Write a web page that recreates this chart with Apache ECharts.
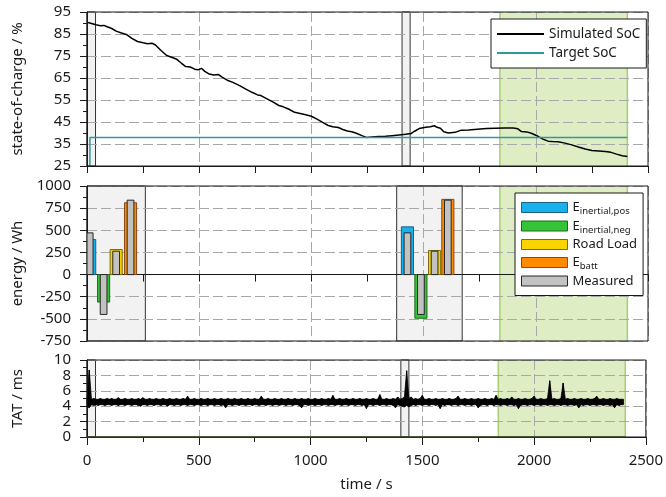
<!DOCTYPE html>
<html>
<head>
<meta charset="utf-8">
<script src="https://cdn.jsdelivr.net/npm/echarts@6.0.0/dist/echarts.min.js"></script>
<style>
html, body { margin: 0; padding: 0; background: #fff; }
#chart { width: 666px; height: 497px; }
</style>
</head>
<body>
<div id="chart"></div>
<script>
// ---- state of charge (top panel) ----
const socTime = [5, 20, 40, 60, 75, 90, 110, 130, 150, 175, 200, 225, 250, 270, 290, 305, 330, 355, 380, 400,
  420, 440, 460, 480, 495, 510, 525, 545, 565, 585, 600, 625, 650, 680, 710, 735, 760, 775, 800, 830,
  855, 875, 900, 925, 950, 975, 1000, 1025, 1050, 1075, 1095, 1120, 1140, 1160, 1180, 1200, 1225, 1245, 1270, 1300,
  1330, 1360, 1390, 1420, 1445, 1460, 1480, 1510, 1530, 1548, 1560, 1575, 1590, 1610, 1640, 1665, 1700, 1740, 1780, 1820,
  1860, 1900, 1920, 1935, 1960, 1980, 2010, 2030, 2055, 2075, 2100, 2130, 2160, 2190, 2220, 2250, 2280, 2310, 2335, 2360,
  2385, 2408];
const socSimulated = [90.2, 89.8, 89.2, 88.8, 88.9, 88.3, 87.5, 86.3, 85.6, 84.8, 83.0, 81.6, 81.0, 80.6, 80.8, 80.0, 77.5, 75.2, 74.3, 73.5,
  71.8, 70.2, 70.0, 69.0, 68.7, 69.4, 68.0, 66.8, 66.4, 66.6, 65.5, 64.0, 63.0, 61.5, 59.8, 58.5, 57.3, 57.0, 55.6, 54.0,
  52.5, 51.9, 50.8, 49.4, 48.9, 48.3, 47.6, 46.3, 44.8, 43.4, 42.8, 42.5, 41.6, 40.9, 40.6, 39.9, 38.8, 38.0, 38.2, 38.4,
  38.5, 38.8, 39.1, 39.4, 39.8, 40.8, 42.0, 42.6, 42.8, 43.3, 42.6, 42.2, 40.6, 40.0, 40.3, 41.2, 41.4, 41.7, 42.0, 42.2,
  42.3, 42.3, 41.9, 40.7, 40.5, 39.9, 38.5, 37.3, 36.3, 36.1, 36.0, 35.4, 34.6, 33.6, 32.7, 32.0, 31.8, 31.6, 31.2, 30.4,
  29.7, 29.3];
const targetTime = [13, 13, 2408];
const targetSoc = [25, 38, 38];

// ---- energy balance (middle panel) ----
const energyNames = ['E_inertial,pos', 'E_inertial,neg', 'Road Load', 'E_batt'];
const energyTimes = [[12, 1428], [74, 1488], [130, 1549], [194, 1608]];
const energySimulated = [[396, 539], [-310, -493], [283, 272], [811, 849]];
const energyMeasured = [[471, 471], [-450, -450], [264, 264], [840, 840]];

// ---- turnaround time (bottom panel): min / max per 10 s window ----
const tatStep = 10;
const tatHigh = [
  4.9, 8.7, 4.9, 5.0, 4.9, 4.9, 5.0, 4.9, 4.9, 5.0,
  4.9, 5.0, 4.9, 4.9, 5.1, 4.9, 4.9, 5.0, 4.9, 4.9,
  5.0, 4.9, 4.9, 5.0, 4.9, 5.1, 4.9, 4.9, 5.0, 4.9,
  4.9, 5.0, 4.9, 4.9, 5.0, 4.9, 4.9, 5.0, 4.9, 4.9,
  5.0, 4.9, 4.9, 5.0, 4.9, 5.3, 4.9, 4.9, 5.0, 4.9,
  4.9, 5.0, 4.9, 4.9, 5.0, 4.9, 4.9, 5.0, 4.9, 4.9,
  5.0, 4.9, 4.9, 5.0, 4.9, 4.9, 5.0, 4.9, 4.9, 5.0,
  4.9, 4.9, 5.0, 4.9, 4.9, 5.0, 4.9, 4.9, 5.3, 4.9,
  4.9, 5.0, 4.9, 4.9, 5.0, 4.9, 4.9, 5.0, 4.9, 4.9,
  5.0, 4.9, 4.9, 5.0, 4.9, 4.9, 5.0, 4.9, 4.9, 5.0,
  4.9, 4.9, 5.0, 4.9, 4.9, 5.0, 4.9, 4.9, 5.0, 4.9,
  5.4, 4.9, 4.9, 5.0, 4.9, 4.9, 5.0, 4.9, 4.9, 5.0,
  4.9, 4.9, 5.0, 4.9, 4.9, 5.0, 4.9, 4.9, 5.0, 4.9,
  4.9, 5.5, 4.9, 4.9, 5.0, 4.9, 4.9, 5.0, 4.9, 5.2,
  4.9, 5.0, 5.2, 8.6, 5.0, 5.2, 4.9, 5.0, 4.9, 5.0,
  5.4, 4.9, 4.9, 5.0, 4.9, 4.9, 5.0, 4.9, 4.9, 5.0,
  4.9, 4.9, 5.0, 4.9, 4.9, 5.0, 5.3, 4.9, 4.9, 5.0,
  4.9, 4.9, 5.0, 4.9, 4.9, 5.0, 4.9, 4.9, 5.0, 4.9,
  4.9, 5.0, 4.9, 5.4, 4.9, 5.0, 4.9, 4.9, 5.0, 4.9,
  5.2, 4.9, 4.9, 5.0, 4.9, 4.9, 5.0, 4.9, 4.9, 5.0,
  5.3, 4.9, 4.9, 5.0, 4.9, 4.9, 5.0, 7.3, 4.9, 5.0,
  4.9, 4.9, 5.0, 7.0, 4.9, 5.0, 4.9, 4.9, 5.0, 4.9,
  4.9, 5.0, 4.9, 4.9, 5.0, 4.9, 4.9, 5.0, 5.3, 4.9,
  4.9, 5.0, 4.9, 4.9, 5.0, 4.9, 4.9, 5.0, 4.9, 4.9,
  4.9];
const tatLow = [
  4.0, 3.8, 4.2, 4.1, 4.2, 4.1, 4.2, 4.2, 4.1, 4.2,
  4.2, 4.1, 4.2, 4.2, 4.1, 4.2, 4.2, 4.1, 4.2, 4.2,
  4.1, 4.2, 4.2, 4.1, 4.0, 4.2, 4.2, 4.1, 4.2, 4.2,
  4.1, 4.2, 4.2, 4.1, 4.2, 4.2, 4.0, 4.2, 4.2, 4.1,
  4.2, 4.2, 4.1, 4.2, 4.2, 4.1, 4.2, 4.2, 4.1, 4.2,
  4.2, 4.1, 4.2, 4.2, 4.1, 4.2, 4.2, 4.1, 4.2, 4.2,
  4.1, 4.2, 3.8, 4.2, 4.2, 4.1, 4.2, 4.2, 4.1, 4.2,
  4.2, 4.1, 4.2, 4.2, 4.1, 4.2, 4.2, 4.1, 4.2, 4.2,
  4.1, 4.2, 4.2, 4.1, 4.2, 4.2, 4.1, 4.2, 4.2, 4.1,
  4.2, 4.2, 4.1, 4.2, 4.2, 4.1, 3.8, 4.2, 4.2, 4.1,
  4.2, 4.2, 4.1, 4.2, 4.2, 4.1, 4.2, 4.2, 4.1, 4.2,
  4.2, 4.1, 4.2, 4.2, 4.1, 4.2, 4.2, 4.1, 4.2, 4.2,
  4.1, 4.2, 4.2, 4.1, 4.2, 3.7, 4.2, 4.2, 4.1, 4.2,
  4.2, 4.1, 4.2, 4.2, 4.1, 4.2, 4.2, 4.1, 3.8, 4.2,
  4.1, 4.0, 3.9, 4.1, 3.9, 4.1, 4.2, 4.1, 4.2, 4.2,
  4.1, 4.2, 4.2, 4.1, 4.2, 4.2, 4.1, 4.2, 3.7, 4.2,
  4.1, 4.2, 4.2, 4.1, 4.2, 4.2, 4.1, 4.2, 4.2, 4.1,
  4.2, 4.2, 4.1, 4.2, 4.2, 3.8, 4.1, 4.2, 4.2, 4.1,
  4.2, 4.2, 4.1, 4.2, 4.2, 4.1, 4.2, 4.2, 4.1, 4.2,
  4.2, 4.1, 4.2, 3.7, 4.1, 4.2, 4.2, 4.1, 4.2, 4.2,
  4.1, 4.2, 4.2, 4.1, 4.2, 4.2, 4.1, 4.2, 4.2, 4.1,
  4.2, 4.2, 4.1, 4.2, 4.2, 4.1, 4.2, 4.2, 4.1, 4.2,
  3.8, 4.2, 4.1, 4.2, 4.2, 4.1, 4.2, 4.2, 4.1, 4.2,
  4.2, 4.1, 4.2, 4.2, 4.1, 4.2, 3.8, 4.2, 4.1, 4.2,
  4.2];
const flagTime = [0, 2408];
const flagValue = [0, 0];

// ---- highlighted time windows ----
const socWindows = [[0, 38], [1404, 1440]];
const energyWindows = [[0, 260], [1380, 1672]];
const tatWindows = [[0, 38], [1404, 1440]];
const evaluationWindow = [[1840, 2408]];

// ---- axis ticks ----
const timeAxis = { min: 0, max: 2500, interval: 500 };
const socAxis = { min: 25, max: 95, interval: 10 };
const energyAxis = { min: -750, max: 1000, interval: 250 };
const tatAxis = { min: 0, max: 10, interval: 2 };

const FONT = 'Noto Sans';
const TXT = '#1a1a1a';

const barColors = {
  'E_inertial,pos': { fill: '#17b2ec', stroke: '#1f5f86' },
  'E_inertial,neg': { fill: '#35c435', stroke: '#1e6b1e' },
  'Road Load': { fill: '#fbd400', stroke: '#7a6a10' },
  'E_batt': { fill: '#ff8a00', stroke: '#8a4a16' },
  'Measured': { fill: '#c2c2c2', stroke: '#262626' }
};
const simBarWidth = 54;   // seconds
const measBarWidth = 30;  // seconds

function grid(top, height) {
  return { left: 87, right: 18, top: top, height: height, show: true, z: 4,
    backgroundColor: 'transparent', borderColor: '#1a1a1a', borderWidth: 1 };
}

const plainNumber = v => String(v);

function xAxisFor(gridIndex, withLabels) {
  return {
    type: 'value', gridIndex: gridIndex, min: timeAxis.min, max: timeAxis.max, interval: timeAxis.interval, z: 1,
    name: withLabels ? 'time / s' : '', nameLocation: 'middle', nameGap: 40,
    nameTextStyle: { fontFamily: FONT, fontSize: 15, color: TXT },
    axisLine: { show: true, lineStyle: { color: '#1a1a1a', width: 1 } },
    axisTick: { show: true, length: withLabels ? 8 : 7, lineStyle: { color: '#1a1a1a' } },
    minorTick: { show: true, splitNumber: 2, length: withLabels ? 5 : 7, lineStyle: { color: '#1a1a1a' } },
    splitLine: { show: true, lineStyle: { color: '#a8a8a8', type: [10, 4], width: 1 } },
    axisLabel: { show: withLabels, fontFamily: FONT, fontSize: 15, color: TXT, margin: 16, formatter: plainNumber }
  };
}

function yAxisFor(gridIndex, ax, name) {
  return {
    type: 'value', gridIndex: gridIndex, min: ax.min, max: ax.max, interval: ax.interval, offset: 7, z: 1,
    name: name, nameLocation: 'middle', nameGap: 55,
    nameTextStyle: { fontFamily: FONT, fontSize: 15, color: TXT },
    axisLine: { show: true, lineStyle: { color: '#1a1a1a', width: 1 } },
    axisTick: { show: true, length: 7, lineStyle: { color: '#1a1a1a' } },
    minorTick: { show: true, splitNumber: 2, length: 4, lineStyle: { color: '#1a1a1a' } },
    splitLine: { show: true, lineStyle: { color: '#a8a8a8', type: [10, 4], width: 1 } },
    axisLabel: { fontFamily: FONT, fontSize: 15, color: TXT, margin: 9, formatter: plainNumber }
  };
}

// shaded time windows spanning the whole panel height
function windowSeries(idx, spans, fill, stroke, sidesOnly) {
  return {
    type: 'custom', xAxisIndex: idx, yAxisIndex: idx, z: 0, silent: true,
    data: spans,
    renderItem: function (params, api) {
      const cs = params.coordSys;
      const x0 = Math.max(cs.x, api.coord([api.value(0), 0])[0]);
      const x1 = Math.min(cs.x + cs.width, api.coord([api.value(1), 0])[0]);
      const children = [{
        type: 'rect', shape: { x: x0, y: cs.y, width: x1 - x0, height: cs.height },
        style: { fill: fill, stroke: sidesOnly ? null : stroke, lineWidth: 1 }
      }];
      if (sidesOnly) {
        children.push({ type: 'line', shape: { x1: x0, y1: cs.y, x2: x0, y2: cs.y + cs.height }, style: { stroke: stroke, lineWidth: 1.5 } });
        children.push({ type: 'line', shape: { x1: x1, y1: cs.y, x2: x1, y2: cs.y + cs.height }, style: { stroke: stroke, lineWidth: 1.5 } });
      }
      return { type: 'group', children: children };
    }
  };
}

function barSeries(name, points, width, z) {
  const c = barColors[name];
  return {
    type: 'custom', name: name, xAxisIndex: 1, yAxisIndex: 1, z: z, clip: true,
    itemStyle: { color: c.fill, borderColor: c.stroke, borderWidth: 1 },
    data: points,
    renderItem: function (params, api) {
      const cs = params.coordSys;
      const t = api.value(0), v = api.value(1);
      const a = api.coord([t - width / 2, v]);
      const b = api.coord([t + width / 2, 0]);
      const left = Math.max(cs.x, a[0]);
      const right = b[0];
      return {
        type: 'rect',
        shape: { x: left, y: Math.min(a[1], b[1]), width: right - left, height: Math.abs(b[1] - a[1]) },
        style: { fill: c.fill, stroke: c.stroke, lineWidth: 1 }
      };
    }
  };
}

const socLine = socTime.map((t, i) => [t, socSimulated[i]]);
const targetLine = targetTime.map((t, i) => [t, targetSoc[i]]);
const tatBand = tatHigh.map((h, i) => [i * tatStep, tatLow[i], h]);
const flagLine = flagTime.map((t, i) => [t, flagValue[i]]);

const series = [
  windowSeries(0, socWindows, '#f2f2f2', '#333333', false),
  windowSeries(0, evaluationWindow, '#dfedc4', '#a7cf70', true),
  windowSeries(1, energyWindows, '#f2f2f2', '#333333', false),
  windowSeries(1, evaluationWindow, '#dfedc4', '#a7cf70', true),
  windowSeries(2, tatWindows, '#f2f2f2', '#333333', false),
  windowSeries(2, evaluationWindow, '#dfedc4', '#a7cf70', true),
  {
    type: 'line', name: 'Simulated SoC', xAxisIndex: 0, yAxisIndex: 0, z: 3,
    data: socLine, showSymbol: false, symbol: 'none',
    itemStyle: { color: '#000' }, lineStyle: { color: '#000', width: 1.5 }
  },
  {
    type: 'line', name: 'Target SoC', xAxisIndex: 0, yAxisIndex: 0, z: 3,
    data: targetLine, showSymbol: false, symbol: 'none',
    itemStyle: { color: '#2e9a9a' }, lineStyle: { color: '#2e9a9a', width: 1.5 }
  }
];

energyNames.forEach((name, k) => {
  series.push(barSeries(name, energyTimes[k].map((t, j) => [t, energySimulated[k][j]]), simBarWidth, 3));
});
const measuredPoints = [];
energyNames.forEach((name, k) => {
  energyTimes[k].forEach((t, j) => measuredPoints.push([t, energyMeasured[k][j]]));
});
series.push(barSeries('Measured', measuredPoints, measBarWidth, 4));

// turnaround time: the signal's min/max envelope between consecutive windows
series.push({
  type: 'custom', name: 'TAT', xAxisIndex: 2, yAxisIndex: 2, z: 3, silent: true,
  data: tatBand,
  renderItem: function (params, api) {
    const i = params.dataIndexInside;
    if (i === 0) return null;
    const t0 = api.value(0, i - 1), t1 = api.value(0);
    const pts = [
      api.coord([t0, api.value(2, i - 1)]),
      api.coord([t1, api.value(2)]),
      api.coord([t1, api.value(1)]),
      api.coord([t0, api.value(1, i - 1)])
    ];
    return { type: 'polygon', shape: { points: pts },
      style: { fill: '#000', stroke: '#000', lineWidth: 0.8 } };
  }
});
series.push({
  type: 'line', name: 'flag', xAxisIndex: 2, yAxisIndex: 2, z: 3,
  data: flagLine, showSymbol: false, symbol: 'none',
  lineStyle: { color: '#4c7a1c', width: 1.5 }
});

const legendRich = {
  m: { fontFamily: FONT, fontSize: 13, color: TXT },
  s: { fontFamily: FONT, fontSize: 9.5, color: TXT, padding: [8, 0, 0, 0] }
};

const option = {
  animation: false,
  backgroundColor: '#fff',
  grid: [grid(12, 154), grid(186, 155), grid(360, 77)],
  xAxis: [xAxisFor(0, false), xAxisFor(1, false), xAxisFor(2, true)],
  yAxis: [
    yAxisFor(0, socAxis, 'state-of-charge / %'),
    yAxisFor(1, energyAxis, 'energy / Wh'),
    yAxisFor(2, tatAxis, 'TAT / ms')
  ],
  legend: [
    {
      data: ['Simulated SoC', 'Target SoC'], orient: 'vertical', left: 491, top: 19,
      icon: 'rect', itemWidth: 47, itemHeight: 2, itemGap: 3,
      backgroundColor: '#fff', borderColor: '#1a1a1a', borderWidth: 1, borderRadius: 0,
      padding: [7, 6, 7, 6], selectedMode: false,
      textStyle: { fontFamily: FONT, fontSize: 13.5, color: TXT, lineHeight: 16 }
    },
    {
      data: ['E_inertial,pos', 'E_inertial,neg', 'Road Load', 'E_batt', 'Measured'].map(n => ({
        name: n, itemStyle: { color: barColors[n].fill, borderColor: barColors[n].stroke, borderWidth: 1 }
      })),
      orient: 'vertical', left: 515, top: 193,
      icon: 'rect', itemWidth: 46, itemHeight: 10, itemGap: 1,
      backgroundColor: '#fff', borderColor: '#1a1a1a', borderWidth: 1, borderRadius: 0,
      padding: [6, 6, 6, 6], selectedMode: false,
      textStyle: { fontFamily: FONT, fontSize: 13, color: TXT, lineHeight: 17, rich: legendRich },
      formatter: function (name) {
        if (name.indexOf('E_') === 0) return '{m|E}{s|' + name.slice(2) + '}';
        return '{m|' + name + '}';
      }
    }
  ],
  series: series
};

const chart = echarts.init(document.getElementById('chart'), null, { renderer: 'canvas' });
chart.setOption(option);
</script>
</body>
</html>
